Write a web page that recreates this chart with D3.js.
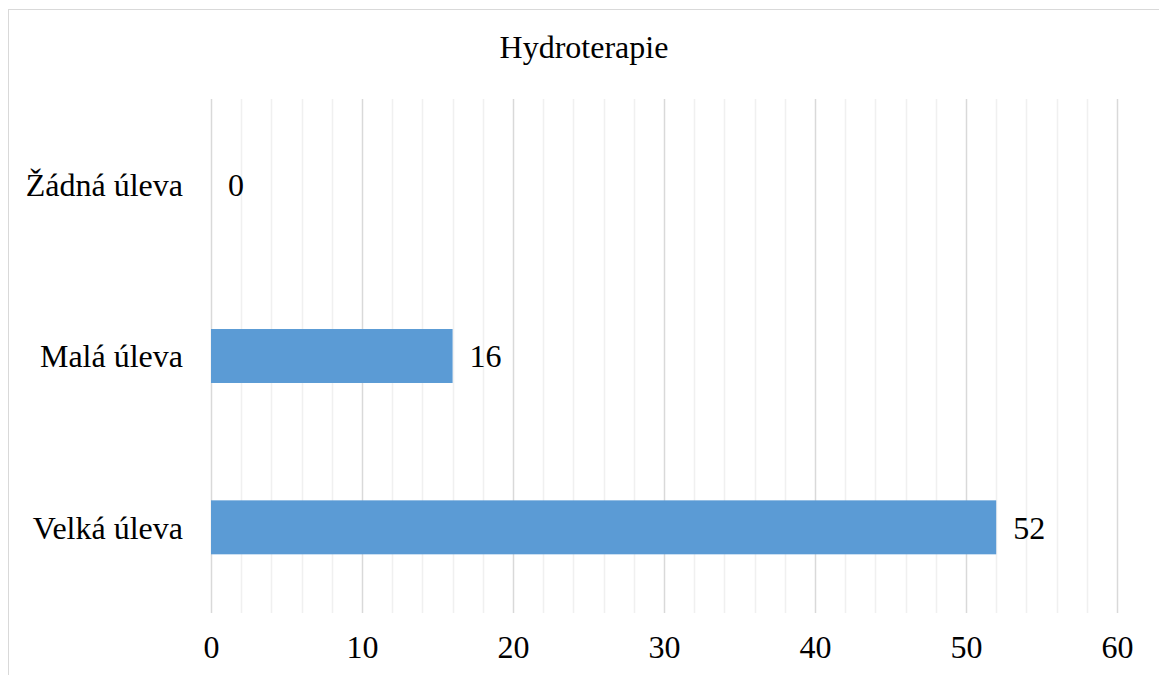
<!DOCTYPE html>
<html>
<head>
<meta charset="utf-8">
<script src="https://cdn.jsdelivr.net/npm/d3@7"></script>
<style>
  html, body { margin: 0; padding: 0; background: #fff; }
  svg { display: block; }
  svg text { font-family: "Liberation Serif", "Times New Roman", serif; fill: #000; }
</style>
</head>
<body>
<svg id="chart" width="1159" height="675"></svg>
<script>
// Chart data
const title = "Hydroterapie";
const categories = ["Žádná úleva", "Malá úleva", "Velká úleva"];
const values = [0, 16, 52];
const xMajorTicks = [0, 10, 20, 30, 40, 50, 60];
const xMinorTicks = d3.range(0, 61, 2);

const W = 1159, H = 675;
const plot = { left: 211, right: 1117, top: 99, bottom: 613 };
const FONT = "Liberation Serif, Times New Roman, serif";
const FS = 32;

const svg = d3.select("#chart");

// Chart area frame (extends past the visible right and bottom edges)
svg.append("rect")
  .attr("x", 8.5).attr("y", 9.5)
  .attr("width", W + 20).attr("height", H + 20)
  .attr("fill", "#fff")
  .attr("stroke", "#d9d9d9")
  .attr("stroke-width", 1);

const x = d3.scaleLinear().domain([0, 60]).range([plot.left, plot.right]);
const y = d3.scaleBand().domain(categories).range([plot.top, plot.bottom]).paddingInner(0.685).paddingOuter(0.3425);

// Minor gridlines
svg.append("g").selectAll("line")
  .data(xMinorTicks.filter(d => d % 10 !== 0))
  .join("line")
  .attr("x1", d => Math.round(x(d)) + 0.5).attr("x2", d => Math.round(x(d)) + 0.5)
  .attr("y1", plot.top).attr("y2", plot.bottom)
  .attr("stroke", "#f0f0f0").attr("stroke-width", 1.5);

// Major gridlines
svg.append("g").selectAll("line")
  .data(xMajorTicks)
  .join("line")
  .attr("x1", d => Math.round(x(d)) + 0.5).attr("x2", d => Math.round(x(d)) + 0.5)
  .attr("y1", plot.top).attr("y2", plot.bottom)
  .attr("stroke", "#d9d9d9").attr("stroke-width", 1.5);

// Bars
svg.append("g").selectAll("rect")
  .data(values)
  .join("rect")
  .attr("x", x(0))
  .attr("y", (d, i) => y(categories[i]))
  .attr("width", d => x(d) - x(0))
  .attr("height", y.bandwidth())
  .attr("fill", "#5b9bd5");

// Value labels
svg.append("g").selectAll("text")
  .data(values)
  .join("text")
  .attr("x", d => x(d) + 17)
  .attr("y", (d, i) => y(categories[i]) + y.bandwidth() / 2)
  .attr("dy", "0.35em")
  .attr("font-family", FONT)
  .attr("font-size", FS)
  .text(d => d);

// Category axis labels
svg.append("g").selectAll("text")
  .data(categories)
  .join("text")
  .attr("x", 183)
  .attr("y", d => y(d) + y.bandwidth() / 2)
  .attr("dy", "0.35em")
  .attr("text-anchor", "end")
  .attr("font-family", FONT)
  .attr("font-size", FS)
  .text(d => d);

// Value axis tick labels
const xAxis = d3.axisBottom(x).tickValues(xMajorTicks).tickSize(0).tickPadding(0);
const gx = svg.append("g").attr("transform", `translate(0, ${plot.bottom})`).call(xAxis);
gx.attr("font-family", FONT).attr("font-size", FS);
gx.select(".domain").remove();
gx.selectAll("text")
  .attr("y", 45)
  .attr("dy", 0)
  .attr("fill", "#000");

// Title
svg.append("text")
  .attr("x", 584)
  .attr("y", 58)
  .attr("text-anchor", "middle")
  .attr("font-family", FONT)
  .attr("font-size", FS)
  .text(title);
</script>
</body>
</html>
